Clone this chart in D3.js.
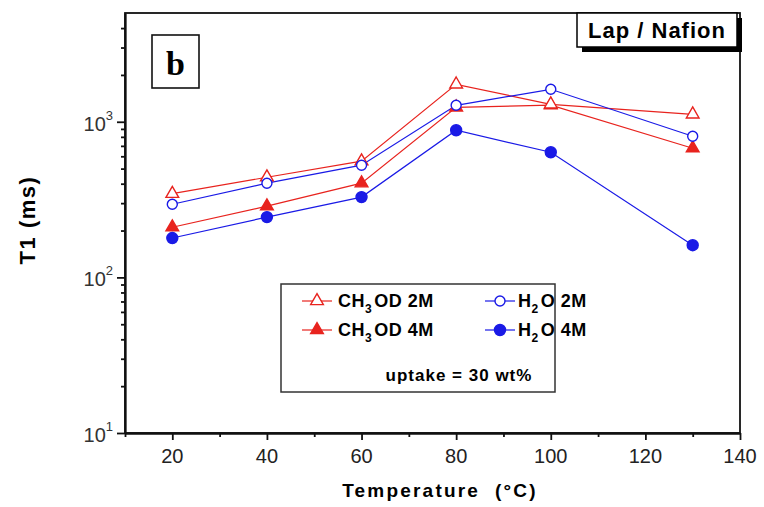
<!DOCTYPE html>
<html>
<head>
<meta charset="utf-8">
<script src="https://cdn.jsdelivr.net/npm/d3@7"></script>
<style>
  body { margin: 0; background: #fff; }
  text { font-family: "Liberation Sans", Arial, sans-serif; }
</style>
</head>
<body>
<svg id="chart"></svg>
<script>
// data (T1 in ms)
const temps = [20, 40, 60, 80, 100, 130];
const ch3od2M = [345, 440, 558, 1740, 1295, 1117];
const h2o2M = [295, 403, 526, 1276, 1617, 807];
const ch3od4M = [210, 287, 403, 1239, 1280, 676];
const h2o4M = [179, 244, 328, 882, 637, 161];

const xTicks = [20, 40, 60, 80, 100, 120, 140];
const xMinorTicks = [10, 30, 50, 70, 90, 110, 130];
const yTicks = [10, 100, 1000];

const series = [
    {main: 'CH', sub: '3', rest: 'OD 2M', values: ch3od2M, color: '#e8231e', shape: 'tri', filled: false},
    {main: 'H', sub: '2', rest: 'O 2M', values: h2o2M, color: '#1a1ae6', shape: 'circle', filled: false},
    {main: 'CH', sub: '3', rest: 'OD 4M', values: ch3od4M, color: '#e8231e', shape: 'tri', filled: true},
    {main: 'H', sub: '2', rest: 'O 4M', values: h2o4M, color: '#1a1ae6', shape: 'circle', filled: true}
];

const width = 764, height = 507;
const margin = {top: 13, right: 24, bottom: 74, left: 125};
const innerW = width - margin.left - margin.right;
const innerH = height - margin.top - margin.bottom;

const svg = d3.select('#chart')
    .attr('width', width)
    .attr('height', height);

const g = svg.append('g')
    .attr('transform', `translate(${margin.left},${margin.top})`);

const x = d3.scaleLinear().domain([10, 140]).range([0, innerW]);
const y = d3.scaleLog().domain([10, 5000]).range([innerH, 0]);

// minor ticks
const yMinor = [];
[10, 100, 1000].forEach(d => {
    for (let k = 2; k <= 9; k++) if (d * k < 5000) yMinor.push(d * k);
});

g.append('g')
    .attr('class', 'axis')
    .call(d3.axisLeft(y).tickValues(yMinor).tickSize(4).tickSizeOuter(0).tickFormat(''));
g.append('g')
    .attr('class', 'axis')
    .attr('transform', `translate(0,${innerH})`)
    .call(d3.axisBottom(x).tickValues(xMinorTicks).tickSize(4).tickSizeOuter(0).tickFormat(''));

// major ticks
g.append('g')
    .attr('class', 'axis')
    .call(d3.axisLeft(y).tickValues(yTicks).tickSize(8).tickSizeOuter(0).tickFormat(''));
g.append('g')
    .attr('class', 'axis')
    .attr('transform', `translate(0,${innerH})`)
    .call(d3.axisBottom(x).tickValues(xTicks).tickSize(7).tickSizeOuter(0).tickFormat(''));

g.selectAll('.axis path, .axis line')
    .attr('stroke', '#111')
    .attr('stroke-width', 1.8);

// y tick labels as 10^n
yTicks.forEach(v => {
    const t = g.append('text')
        .attr('x', -12)
        .attr('y', y(v) + 9)
        .attr('text-anchor', 'end')
        .attr('fill', '#333')
        .style('font-size', '20px');
    t.append('tspan').text('10');
    t.append('tspan')
        .attr('dy', -11)
        .style('font-size', '13px')
        .text(Math.round(Math.log10(v)));
});

// x tick labels
g.selectAll('.xlab')
    .data(xTicks)
    .join('text')
    .attr('class', 'xlab')
    .attr('x', d => x(d))
    .attr('y', innerH + 30)
    .attr('text-anchor', 'middle')
    .attr('fill', '#222')
    .style('font-size', '20px')
    .text(d => d);

// frame
g.append('rect')
    .attr('width', innerW)
    .attr('height', innerH)
    .attr('fill', 'none')
    .attr('stroke', '#111')
    .attr('stroke-width', 1.8);

// axis titles
svg.append('text')
    .attr('x', 440)
    .attr('y', 497)
    .attr('text-anchor', 'middle')
    .style('font-size', '19px')
    .style('font-weight', 'bold')
    .style('letter-spacing', '2.2px')
    .text('Temperature\u00a0\u00a0(°C)');

svg.append('text')
    .attr('transform', 'translate(35,220) rotate(-90)')
    .attr('text-anchor', 'middle')
    .style('font-size', '22px')
    .style('font-weight', 'bold')
    .style('letter-spacing', '1.5px')
    .text('T1 (ms)');

// series
const line = d3.line()
    .x((d, i) => x(temps[i]))
    .y(d => y(d));

g.selectAll('.series-line')
    .data(series)
    .join('path')
    .attr('class', 'series-line')
    .attr('d', d => line(d.values))
    .attr('fill', 'none')
    .attr('stroke', d => d.color)
    .attr('stroke-width', 1.2);

const triPath = d3.symbol().type(d3.symbolTriangle).size(70)();

function drawMarker(sel, s, cx, cy) {
    if (s.shape === 'tri') {
        sel.append('path')
            .attr('d', triPath)
            .attr('transform', `translate(${cx},${cy})`)
            .attr('fill', s.filled ? s.color : '#fff')
            .attr('stroke', s.color)
            .attr('stroke-width', 1.4);
    } else {
        sel.append('circle')
            .attr('cx', cx)
            .attr('cy', cy)
            .attr('r', s.filled ? 5.5 : 5)
            .attr('fill', s.filled ? s.color : '#fff')
            .attr('stroke', s.color)
            .attr('stroke-width', 1.4);
    }
}

// filled markers first, open ones on top
const order = [series[2], series[3], series[0], series[1]];
order.forEach(s => {
    const mg = g.append('g');
    s.values.forEach((v, i) => drawMarker(mg, s, x(temps[i]), y(v)));
});

// legend
const leg = svg.append('g');
leg.append('rect')
    .attr('x', 281)
    .attr('y', 284)
    .attr('width', 274)
    .attr('height', 108)
    .attr('fill', '#fff')
    .attr('stroke', '#333')
    .attr('stroke-width', 1.5);

const legPos = [
    {sx: 317, tx: 338, ty: 307},
    {sx: 500, tx: 518, ty: 307},
    {sx: 317, tx: 338, ty: 336},
    {sx: 500, tx: 518, ty: 336}
];
series.forEach((s, i) => {
    const p = legPos[i];
    const cy = p.ty - 6;
    leg.append('line')
        .attr('x1', p.sx - 15)
        .attr('x2', p.sx + 15)
        .attr('y1', cy)
        .attr('y2', cy)
        .attr('stroke', s.color)
        .attr('stroke-width', 1.2);
    drawMarker(leg, s, p.sx, cy);
    const t = leg.append('text')
        .attr('x', p.tx)
        .attr('y', p.ty)
        .style('font-size', '18px')
        .style('font-weight', 'bold')
        .style('letter-spacing', '0.5px');
    t.append('tspan').text(s.main);
    t.append('tspan').attr('dy', 6).style('font-size', '12px').text(s.sub);
    t.append('tspan').attr('dy', -6).attr('dx', 2).text(s.rest);
});

leg.append('text')
    .attr('x', 459)
    .attr('y', 381)
    .attr('text-anchor', 'middle')
    .style('font-size', '17px')
    .style('font-weight', 'bold')
    .style('letter-spacing', '1px')
    .text('uptake = 30 wt%');

// "Lap / Nafion" tag with drop shadow
svg.append('rect')
    .attr('x', 582).attr('y', 18)
    .attr('width', 160).attr('height', 34)
    .attr('fill', '#000');
svg.append('rect')
    .attr('x', 577).attr('y', 13)
    .attr('width', 160).attr('height', 34)
    .attr('fill', '#fff')
    .attr('stroke', '#000')
    .attr('stroke-width', 1.5);
svg.append('text')
    .attr('x', 657)
    .attr('y', 38)
    .attr('text-anchor', 'middle')
    .style('font-size', '22px')
    .style('font-weight', 'bold')
    .style('letter-spacing', '1px')
    .text('Lap / Nafion');

// panel letter
svg.append('rect')
    .attr('x', 152).attr('y', 35)
    .attr('width', 47).attr('height', 53)
    .attr('fill', 'none')
    .attr('stroke', '#111')
    .attr('stroke-width', 1.6);
svg.append('text')
    .attr('x', 175.5)
    .attr('y', 75)
    .attr('text-anchor', 'middle')
    .style('font-family', '"Liberation Serif", "Times New Roman", serif')
    .style('font-size', '34px')
    .style('font-weight', 'bold')
    .text('b');
</script>
</body>
</html>
